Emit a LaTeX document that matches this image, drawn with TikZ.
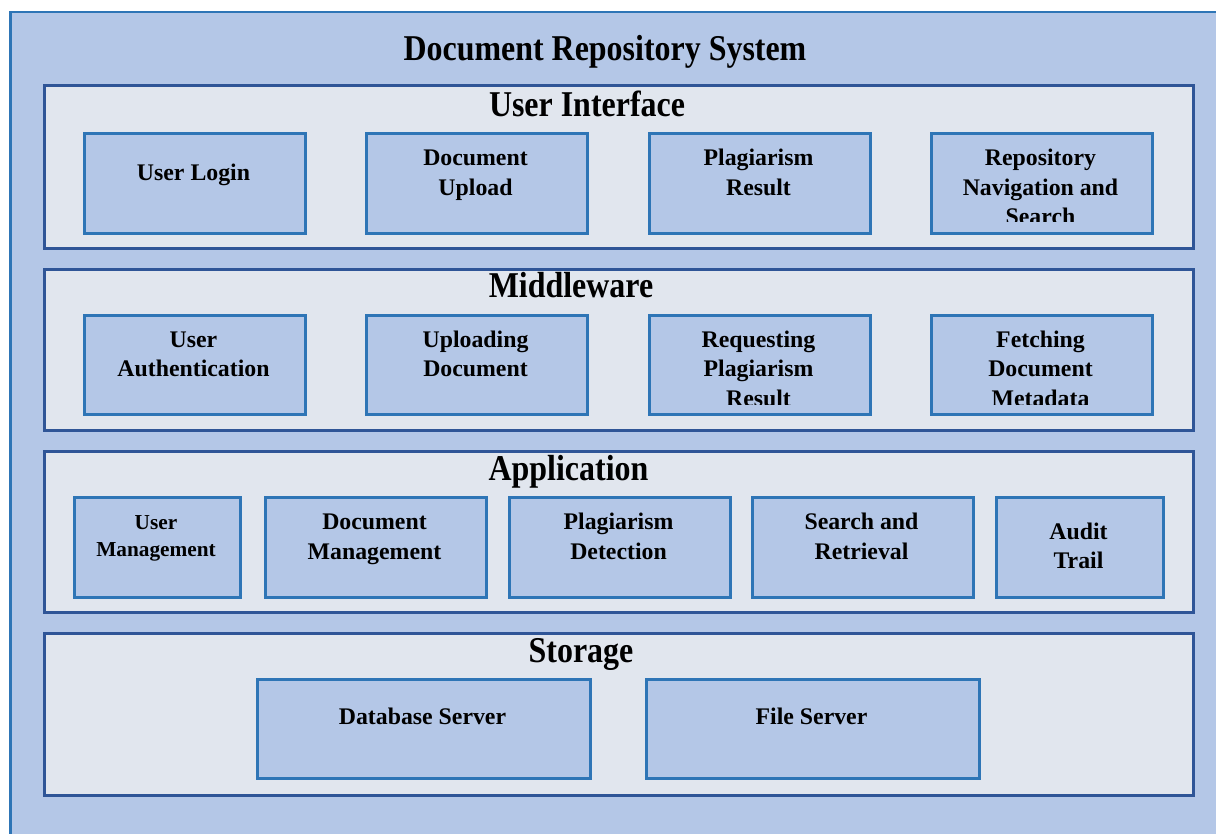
\documentclass[tikz,border=0pt]{standalone}
\usepackage{fontspec}
\setmainfont{Liberation Serif}
\newfontfamily\headfont{Liberation Serif}[FakeStretch=0.88]
\newfontfamily\labelfont{Liberation Serif}
\definecolor{paleblue}{HTML}{B4C7E7}
\definecolor{layerfill}{HTML}{E1E6EE}
\definecolor{midblue}{HTML}{2E75B6}
\definecolor{darkblue}{HTML}{2F5597}
\tikzset{
  frame/.style={draw=midblue, line width=2.5pt, fill=paleblue, rectangle, inner sep=0pt, anchor=north west},
  layer/.style={draw=darkblue, line width=3pt, fill=layerfill, rectangle, inner sep=0pt, anchor=north west},
  comp/.style={draw=midblue, line width=3pt, fill=paleblue, rectangle, inner sep=0pt, anchor=north west},
  headline/.style={font=\headfont\bfseries\fontsize{36.3}{40}\selectfont, inner sep=0pt, anchor=base},
  lbl/.style={font=\labelfont\bfseries\fontsize{23.8}{29.3}\selectfont, align=center, inner sep=0pt, anchor=north},
  smalllbl/.style={font=\labelfont\bfseries\fontsize{21.3}{26.7}\selectfont, align=center, inner sep=0pt, anchor=north}
}
\begin{document}
\begin{tikzpicture}[x=1pt, y=-1pt]
  \clip (0,0) rectangle (1216,834);

  % outer frame and title
  \node[frame, minimum width=1260pt, minimum height=870pt] (system) at (9,11) {};
  \node[headline] (title) at (605,61) {Document Repository System};

  % four layers
  \node[layer, minimum width=1149pt, minimum height=163pt] (ui)  at (43,84)  {};
  \node[layer, minimum width=1149pt, minimum height=161pt] (mw)  at (43,268) {};
  \node[layer, minimum width=1149pt, minimum height=161pt] (app) at (43,450) {};
  \node[layer, minimum width=1149pt, minimum height=162pt] (sto) at (43,632) {};

  \node[headline] (uititle)  at (587,117)   {User Interface};
  \node[headline] (mwtitle)  at (571,298)   {Middleware};
  \node[headline] (apptitle) at (568.5,480) {Application};
  \node[headline] (stotitle) at (581,662)   {Storage};

  % user interface components
  \node[comp, minimum width=221pt, minimum height=100pt] (login)  at (83,132)  {};
  \node[comp, minimum width=221pt, minimum height=100pt] (upload) at (365,132) {};
  \node[comp, minimum width=221pt, minimum height=100pt] (result) at (648,132) {};
  \node[comp, minimum width=221pt, minimum height=100pt] (nav)    at (930,132) {};

  \node[lbl] (loginL)  at (193.5,180-20.51)   {\strut User Login};
  \node[lbl] (uploadL) at (475.5,165.7-20.51) {\strut Document\\Upload};
  \node[lbl] (resultL) at (758.5,165.7-20.51) {\strut Plagiarism\\Result};
  \begin{scope}
    \clip (929,131) rectangle (1152,222);
    \node[lbl] (navL) at (1040.5,165.7-20.51) {\strut Repository\\Navigation and\\Search};
  \end{scope}

  % middleware components
  \node[comp, minimum width=221pt, minimum height=99pt] (auth)  at (83,314)  {};
  \node[comp, minimum width=221pt, minimum height=99pt] (uplo)  at (365,314) {};
  \node[comp, minimum width=221pt, minimum height=99pt] (req)   at (648,314) {};
  \node[comp, minimum width=221pt, minimum height=99pt] (fetch) at (930,314) {};

  \node[lbl] (authL) at (193.5,347.5-20.51) {\strut User\\Authentication};
  \node[lbl] (uploL) at (475.5,347.5-20.51) {\strut Uploading\\Document};
  \begin{scope}
    \clip (647,313) rectangle (870,404);
    \node[lbl] (reqL) at (758.5,347.5-20.51) {\strut Requesting\\Plagiarism\\Result};
  \end{scope}
  \begin{scope}
    \clip (929,313) rectangle (1152,404);
    \node[lbl] (fetchL) at (1040.5,347.5-20.51) {\strut Fetching\\Document\\Metadata};
  \end{scope}

  % application components
  \node[comp, minimum width=166pt, minimum height=100pt] (usrmgmt) at (73,496)  {};
  \node[comp, minimum width=221pt, minimum height=100pt] (docmgmt) at (264,496) {};
  \node[comp, minimum width=221pt, minimum height=100pt] (plag)    at (508,496) {};
  \node[comp, minimum width=221pt, minimum height=100pt] (search)  at (751,496) {};
  \node[comp, minimum width=167pt, minimum height=100pt] (audit)   at (995,496) {};

  \node[smalllbl] (usrmgmtL) at (156,529.3-18.69) {\strut User\\Management};
  \node[lbl] (docmgmtL) at (374.5,529.5-20.51)  {\strut Document\\Management};
  \node[lbl] (plagL)    at (618.5,529.5-20.51)  {\strut Plagiarism\\Detection};
  \node[lbl] (searchL)  at (861.5,529.5-20.51)  {\strut Search and\\Retrieval};
  \node[lbl] (auditL)   at (1078.5,539.3-20.51) {\strut Audit\\Trail};

  % storage components
  \node[comp, minimum width=333pt, minimum height=99pt] (db)   at (256,678) {};
  \node[comp, minimum width=333pt, minimum height=99pt] (file) at (645,678) {};

  \node[lbl] (dbL)   at (422.5,724.5-20.51) {\strut Database Server};
  \node[lbl] (fileL) at (811.5,724.5-20.51) {\strut File Server};
\end{tikzpicture}
\end{document}
